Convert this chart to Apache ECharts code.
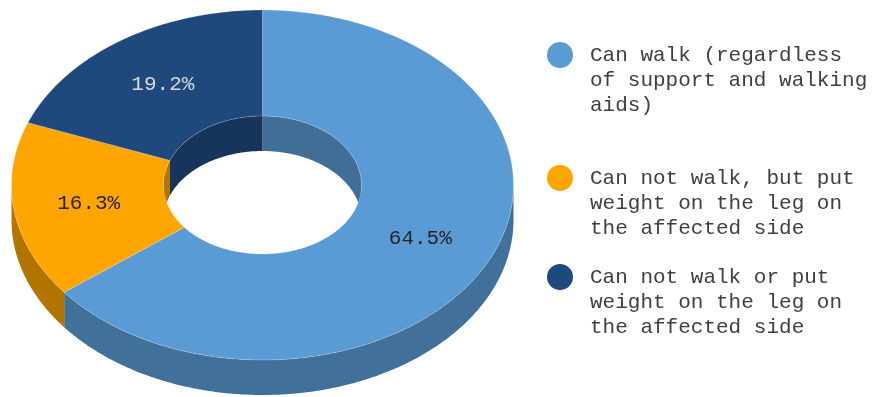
<!DOCTYPE html>
<html>
<head>
<meta charset="utf-8">
<script src="https://cdn.jsdelivr.net/npm/echarts@6/dist/echarts.min.js"></script>
<style>html,body{margin:0;padding:0;background:#fff;}#c{width:877px;height:397px;}</style>
</head>
<body>
<div id="c"></div>
<script>
var categories = [
  'Can walk (regardless of support and walking aids)',
  'Can not walk, but put weight on the leg on the affected side',
  'Can not walk or put weight on the leg on the affected side'
];
var values = [64.5, 16.3, 19.2];
var legendLines = [
  ['Can walk (regardless', 'of support and walking', 'aids)'],
  ['Can not walk, but put', 'weight on the leg on', 'the affected side'],
  ['Can not walk or put', 'weight on the leg on', 'the affected side']
];
var topColors = ['#5b9bd5', '#ffa500', '#1f497d'];
var outerWallColors = ['#41709b', '#b37400', '#163660'];
var innerWallColors = ['#416e96', '#b37400', '#17355b'];
var labelColors = ['#262626', '#262626', '#d9d9d9'];

var CX = 262.5, CY = 185, RX = 251, RY = 175, IRX = 99, IRY = 69, DEPTH = 35;
var FONT = '"Liberation Mono", "Courier New", monospace';

var total = values.reduce(function (a, b) { return a + b; }, 0);
var starts = [], ends = [];
(function () {
  var acc = 0;
  for (var i = 0; i < values.length; i++) {
    starts.push(acc / total * Math.PI * 2);
    acc += values[i];
    ends.push(acc / total * Math.PI * 2);
  }
})();

function pt(t, rx, ry, dy) { return [CX + rx * Math.sin(t), CY - ry * Math.cos(t) + dy]; }
function arc(a0, a1, rx, ry, dy) {
  var n = Math.max(2, Math.ceil(Math.abs(a1 - a0) / (Math.PI / 360)));
  var p = [];
  for (var k = 0; k <= n; k++) p.push(pt(a0 + (a1 - a0) * k / n, rx, ry, dy));
  return p;
}
function band(a0, a1, rx, ry) {
  return arc(a0, a1, rx, ry, 0).concat(arc(a1, a0, rx, ry, DEPTH));
}
function clip(a0, a1, b0, b1) {
  var s = Math.max(a0, b0), e = Math.min(a1, b1);
  return e > s ? [s, e] : null;
}

function renderWalls(params, api) {
  var i = api.value(0);
  var a0 = starts[i], a1 = ends[i];
  var ch = [];
  var o = clip(a0, a1, Math.PI / 2, Math.PI * 1.5);
  if (o) ch.push({ type: 'polygon', shape: { points: band(o[0], o[1], RX, RY) }, style: { fill: outerWallColors[i] } });
  [[0, Math.PI / 2], [Math.PI * 1.5, Math.PI * 2]].forEach(function (r) {
    var c = clip(a0, a1, r[0], r[1]);
    if (c) ch.push({ type: 'polygon', shape: { points: band(c[0], c[1], IRX, IRY) }, style: { fill: innerWallColors[i] } });
  });
  return { type: 'group', children: ch };
}

function renderTop(params, api) {
  var i = api.value(0);
  var a0 = starts[i], a1 = ends[i];
  var pts = arc(a0, a1, RX, RY, 0).concat(arc(a1, a0, IRX, IRY, 0));
  var mid = (a0 + a1) / 2;
  var lp = pt(mid, RX * 0.7, RY * 0.7, 0);
  return {
    type: 'group',
    children: [
      { type: 'polygon', shape: { points: pts }, style: { fill: topColors[i], stroke: 'rgba(255,255,255,0.35)', lineWidth: 0.6 } },
      { type: 'text', style: { text: api.value(1).toFixed(1) + '%', x: lp[0], y: lp[1], align: 'center', verticalAlign: 'middle', fill: labelColors[i], font: '21px ' + FONT } }
    ]
  };
}

var series = [{
  type: 'custom', coordinateSystem: 'none', silent: true, z: 1,
  data: values.map(function (v, i) { return [i, v]; }),
  renderItem: renderWalls
}];
categories.forEach(function (name, i) {
  series.push({
    type: 'custom', name: name, coordinateSystem: 'none', z: 2,
    itemStyle: { color: topColors[i] },
    data: [[i, values[i]]],
    renderItem: renderTop
  });
});

var iconCenters = [55, 178, 277];
var legends = categories.map(function (name, i) {
  return {
    left: 547, top: iconCenters[i] - 62.5, padding: 0,
    orient: 'vertical', icon: 'circle', itemWidth: 26, itemHeight: 26,
    selectedMode: false,
    data: [{ name: name, itemStyle: { color: topColors[i] } }],
    formatter: function () { return '\n\n' + legendLines[i].join('\n'); },
    textStyle: { fontFamily: FONT, fontSize: 21, lineHeight: 25, color: '#404040', padding: [0, 0, 0, 12] }
  };
});

var chart = echarts.init(document.getElementById('c'), null, { renderer: 'canvas' });
chart.setOption({
  backgroundColor: '#ffffff',
  animation: false,
  legend: legends,
  series: series
});
</script>
</body>
</html>
